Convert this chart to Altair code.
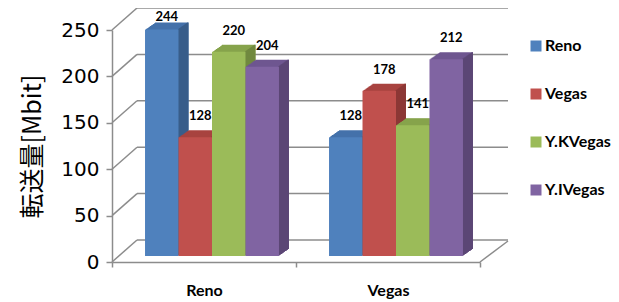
import json
import altair as alt
import pandas as pd

# ---- data -------------------------------------------------------------
groups = ["Reno", "Vegas"]
series = ["Reno", "Vegas", "Y.KVegas", "Y.IVegas"]
reno_vals = [244, 128, 220, 204]
vegas_vals = [128, 178, 141, 212]
yticks = [0, 50, 100, 150, 200, 250]

front_colors = ["#4F81BD", "#C0504D", "#9BBB59", "#8064A2"]
top_colors = ["#4471AA", "#A8433F", "#86A34B", "#6E5690"]
side_colors = ["#385D8A", "#8C3836", "#71893F", "#5C4776"]

rows = []
for gi, (g, vals) in enumerate(zip(groups, [reno_vals, vegas_vals])):
    for si, (s, v) in enumerate(zip(series, vals)):
        rows.append(dict(group=g, gi=gi, series=s, si=si, value=v))
df = pd.DataFrame(rows)
tick_df = pd.DataFrame({"t": yticks})

# ---- geometry / style -------------------------------------------------
W, H = 368, 232
XMIN, XMAX = -0.5, len(groups) - 0.5
YMAX = 250
BW = 0.182                       # bar width as a fraction of a group
PXX = (XMAX - XMIN) / W          # x units per pixel
PXY = YMAX / H                   # y units per pixel
DEPTH_X, DEPTH_Y, STEPS = 10, 7, 10
MID_DX, MID_DY = 8, -6           # bars sit in the middle of the depth
BACK_L, BACK_R, BACK_DY = 25, 28, -22
LABEL_CAP = 235                  # keep value labels inside the chart
GRID = "#8C8C8C"
LBL_FONT = "Lato"

xscale = alt.Scale(domain=[XMIN, XMAX], nice=False, zero=False)
yscale = alt.Scale(domain=[0, YMAX], nice=False)

bounds = [i - 0.5 for i in range(len(groups) + 1)]
xaxis = alt.Axis(
    values=bounds, title=None, grid=False,
    labelExpr=f"{json.dumps(groups)}[round(datum.value + 0.5)] || ''",
    labelOffset=W / len(groups) / 2, labelFlush=False, labelOverlap=False,
    labelFont=LBL_FONT, labelFontSize=16, labelFontWeight="bold", labelColor="black",
    labelPadding=15, tickSize=5, tickColor=GRID, domainColor=GRID,
    tickWidth=1.5, domainWidth=1.5,
)
yaxis = alt.Axis(
    values=yticks, title="転送量[Mbit]", grid=False,
    titleFont="Noto Sans CJK JP", titleFontSize=25, titleFontWeight="normal",
    titleColor="black", titlePadding=15,
    labelFont="DejaVu Sans", labelFontSize=20, labelColor="black", labelPadding=7,
    tickSize=6, tickColor=GRID, domainColor=GRID, tickWidth=1.5, domainWidth=1.5,
)

base = alt.Chart(df).transform_calculate(
    xc=f"datum.gi + (datum.si - {(len(series) - 1) / 2}) * {BW}",
).transform_calculate(
    xl=f"datum.xc - {BW / 2}",
    xr=f"datum.xc + {BW / 2}",
)

# back wall grid lines
back = alt.Chart(tick_df).mark_rule(
    color=GRID, strokeWidth=1.5, xOffset=BACK_L, x2Offset=BACK_R, yOffset=BACK_DY
).encode(
    x=alt.XDatum(XMIN, scale=xscale, axis=xaxis),
    x2=alt.X2Datum(XMAX),
    y=alt.Y("t:Q", scale=yscale, axis=yaxis),
)

# left wall diagonals
left = alt.Chart(tick_df).mark_rule(
    color=GRID, strokeWidth=1.5, x2Offset=BACK_L, y2Offset=BACK_DY
).encode(
    x=alt.XDatum(XMIN, scale=xscale, axis=xaxis),
    x2=alt.X2Datum(XMIN),
    y=alt.Y("t:Q", scale=yscale, axis=yaxis),
    y2="t:Q",
)

# floor right edge
floor = alt.Chart(tick_df).transform_filter("datum.t == 0").mark_rule(
    color=GRID, strokeWidth=1.5, x2Offset=BACK_R, y2Offset=BACK_DY + 1
).encode(
    x=alt.XDatum(XMAX, scale=xscale, axis=xaxis),
    x2=alt.X2Datum(XMAX),
    y=alt.Y("t:Q", scale=yscale, axis=yaxis),
    y2="t:Q",
)

# 3D extrusion (top + side faces)
ddx = DEPTH_X / STEPS * PXX
ddy = DEPTH_Y / STEPS * PXY
ckeys = [f"{s}|top" for s in series] + [f"{s}|side" for s in series]
crange = top_colors + side_colors
ext = base.transform_calculate(
    kind="['top','side']"
).transform_flatten(["kind"]).transform_calculate(
    k=f"sequence(1, {STEPS + 1})"
).transform_flatten(["k"]).transform_calculate(
    ex0=f"datum.kind == 'top' ? datum.xl + datum.k * {ddx} : datum.xr + (datum.k - 1.6) * {ddx}",
    ex1=f"datum.xr + datum.k * {ddx}",
    ey0=f"datum.k * {ddy}",
    ey1=f"datum.value + datum.k * {ddy}",
    ckey="datum.series + '|' + datum.kind",
).mark_bar(
    xOffset=MID_DX, x2Offset=MID_DX, yOffset=MID_DY, y2Offset=MID_DY
).encode(
    x=alt.X("ex0:Q", scale=xscale, axis=xaxis),
    x2="ex1:Q",
    y=alt.Y("ey1:Q", scale=yscale, axis=yaxis),
    y2="ey0:Q",
    fill=alt.Fill("ckey:N", scale=alt.Scale(domain=ckeys, range=crange), legend=None),
)

front = base.transform_calculate(zero="0").mark_bar(
    xOffset=MID_DX, x2Offset=MID_DX, yOffset=MID_DY, y2Offset=MID_DY
).encode(
    x=alt.X("xl:Q", scale=xscale, axis=xaxis),
    x2="xr:Q",
    y=alt.Y("value:Q", scale=yscale, axis=yaxis),
    y2="zero:Q",
    color=alt.Color(
        "series:N",
        scale=alt.Scale(domain=series, range=front_colors),
        legend=alt.Legend(
            title=None, orient="none", legendX=416, legendY=8,
            symbolType="square", symbolSize=121, symbolStrokeWidth=0,
            labelFont=LBL_FONT, labelFontSize=16, labelFontWeight="bold",
            labelColor="black", rowPadding=32, labelOffset=1,
        ),
    ),
)

labels = base.transform_calculate(
    ly=f"min(datum.value, {LABEL_CAP})"
).mark_text(
    font=LBL_FONT, fontSize=13, fontWeight="bold", color="black",
    xOffset=MID_DX, yOffset=MID_DY, dx=5, dy=-21, baseline="middle",
).encode(
    x=alt.X("xc:Q", scale=xscale, axis=xaxis),
    y=alt.Y("ly:Q", scale=yscale, axis=yaxis),
    text="value:Q",
)

chart = alt.layer(back, left, floor, ext, front, labels).properties(
    width=W, height=H,
    autosize=alt.AutoSizeParams(type="none"),
    padding={"left": 104, "top": 22, "right": 131, "bottom": 40},
).configure_view(stroke=None)

chart.save("out.html", embed_options={"renderer": "svg", "actions": False})
